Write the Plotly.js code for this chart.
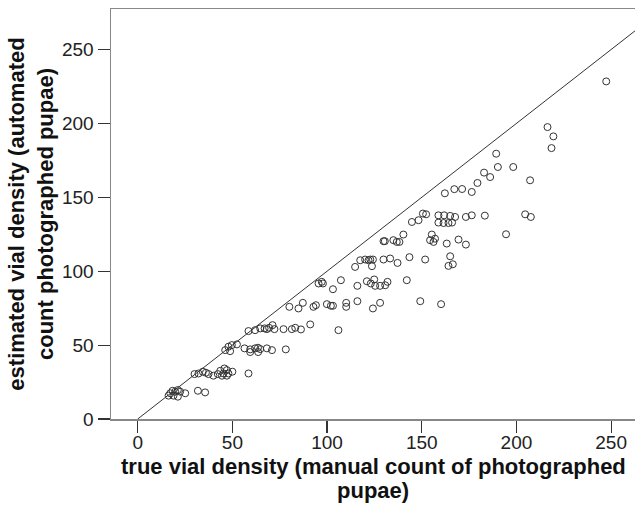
<!DOCTYPE html>
<html>
<head>
<meta charset="utf-8">
<script src="https://cdn.plot.ly/plotly-3.0.1.min.js"></script>
<style>html,body{margin:0;padding:0;background:#fff;}#chart{width:635px;height:513px;}</style>
</head>
<body>
<div id="chart"></div>
<script>
// true vial density (manual count) and estimated density (automated count)
const trueDensity = [
  16.3,17.2,18.4,18.9,19.8,21.2,21.2,22.4,25.1,31.8,35.6,
  30,32.1,34.4,36,37.4,40,42.3,43.6,44.5,45.3,45.8,47.1,47.1,47.9,50,58.5,
  46.2,47.9,48.8,49.7,52.4,56.4,59.4,59.4,62,63.5,63.6,64.7,68.2,70.9,78.2,
  58.5,62,64.7,67,68.2,69.4,71.2,72.2,77,81.4,83.2,86.2,91.1,106,
  80.1,84.9,87.2,92.8,94.1,99.9,102,103.1,110.1,110.1,116,124.2,128,149.2,160.2,
  95.5,97.2,97.8,103.1,107.3,116,121,123.1,124.9,125.4,128,130.7,131.9,142.1,
  114.8,117.5,120.1,121.9,122.8,124.2,123.7,129.8,133.3,137.2,143.5,151.8,165,164.1,166.4,
  129.8,130.5,135,136.8,138.2,140.3,155.3,154.4,156.2,157,163.2,169.4,173.3,194.5,
  144.8,148.3,150.6,152.3,158.8,161.8,165,167.6,173.3,176.4,183.3,158.8,161.5,164.1,166,204.6,207.6,
  162.2,167.2,171.3,176.4,179.4,182.9,186.1,189.3,190.2,198.3,207.2,216.4,219.5,218.5,247.4
];
const estDensity = [
  15.8,17.4,19.1,15.8,18.5,19.6,15.1,18.5,17.4,19.1,18,
  30.4,30.8,32,31.3,30.4,29.3,30.4,32.6,29.3,30.8,34.2,33.1,29.3,30.8,32,30.8,
  46.6,48.9,45.9,50,50.5,47.8,47.1,45.3,47.8,48.2,45.3,47.3,47.8,46.6,47.1,
  59.5,60.1,61.3,61.3,60.8,61.7,63.5,60.8,60.8,60.8,61.7,60.6,64,60.1,
  75.9,74.8,78.6,75.9,77,77.7,76.6,76.6,78.6,75.9,79.7,74.8,78.6,79.7,77.7,
  91.7,92.8,91.7,87.8,93.9,90.1,93.2,91.7,94.4,90.1,90.1,90.5,92.8,93.9,
  102.9,107.4,107.9,107.4,107.9,107.9,103.4,107.9,108.6,105.6,109.5,107.9,110.1,103.6,104.7,
  120.3,120.3,121,119.8,119.8,124.8,124.8,121,119.8,122,118.7,121.4,118,125,
  133.3,134.5,139,138.5,137.8,137.8,137.4,136.7,136.7,137.8,137.6,132.9,132.6,132.6,132.9,138.5,136.7,
  152.7,155.5,155.6,153.6,159.7,166.7,163.7,179.5,170.5,170.5,161.5,197.5,191.2,183.3,228.4
];
// identity reference line y = x
const refLine = [0, 280];
const xTicks = [0, 50, 100, 150, 200, 250];
const yTicks = [0, 50, 100, 150, 200, 250];
const xTitleLines = ['true vial density (manual count of photographed', 'pupae)'];

const traces = [
  {x: refLine, y: refLine, mode: 'lines', type: 'scatter',
   line: {color: '#333333', width: 1}, hoverinfo: 'skip', showlegend: false},
  {x: trueDensity, y: estDensity, mode: 'markers', type: 'scatter',
   marker: {symbol: 'circle-open', size: 7, color: '#333333', line: {width: 1}},
   showlegend: false, cliponaxis: false}
];

const axisFont = {family: 'Liberation Sans, Arial, sans-serif', size: 19, color: '#222'};
const titleFont = {family: 'Liberation Sans, Arial, sans-serif', size: 22, color: '#111', weight: 'bold'};

const layout = {
  width: 635, height: 513,
  margin: {l: 111, r: 0, t: 9, b: 94},
  paper_bgcolor: '#fff', plot_bgcolor: '#fff',
  showlegend: false,
  xaxis: {
    range: [-14.1, 262.6], tickvals: xTicks, ticktext: xTicks.map(String),
    showgrid: false, zeroline: false, showline: true, mirror: true,
    linecolor: '#888', linewidth: 1.5,
    ticks: 'outside', ticklen: 12, tickcolor: '#333', tickwidth: 1.2,
    ticklabelstandoff: -6,
    tickfont: axisFont
  },
  yaxis: {
    range: [0, 277.4], tickvals: yTicks, ticktext: yTicks.map(String),
    showgrid: false, zeroline: false, showline: true,
    linecolor: '#888', linewidth: 1.5,
    ticks: 'outside', ticklen: 12, tickcolor: '#333', tickwidth: 1.2,
    tickfont: axisFont,
    title: {text: '<b>estimated vial density (automated<br>count photographed pupae)</b>', font: titleFont, standoff: 2}
  },
  annotations: xTitleLines.map((t, i) => ({
    text: '<b>' + t + '</b>', xref: 'paper', yref: 'paper', x: 0.5, y: 0,
    xanchor: 'center', yanchor: 'middle', yshift: -47 - 24 * i,
    showarrow: false, font: titleFont
  }))
};

Plotly.newPlot('chart', traces, layout, {displayModeBar: false, staticPlot: true});
</script>
</body>
</html>
